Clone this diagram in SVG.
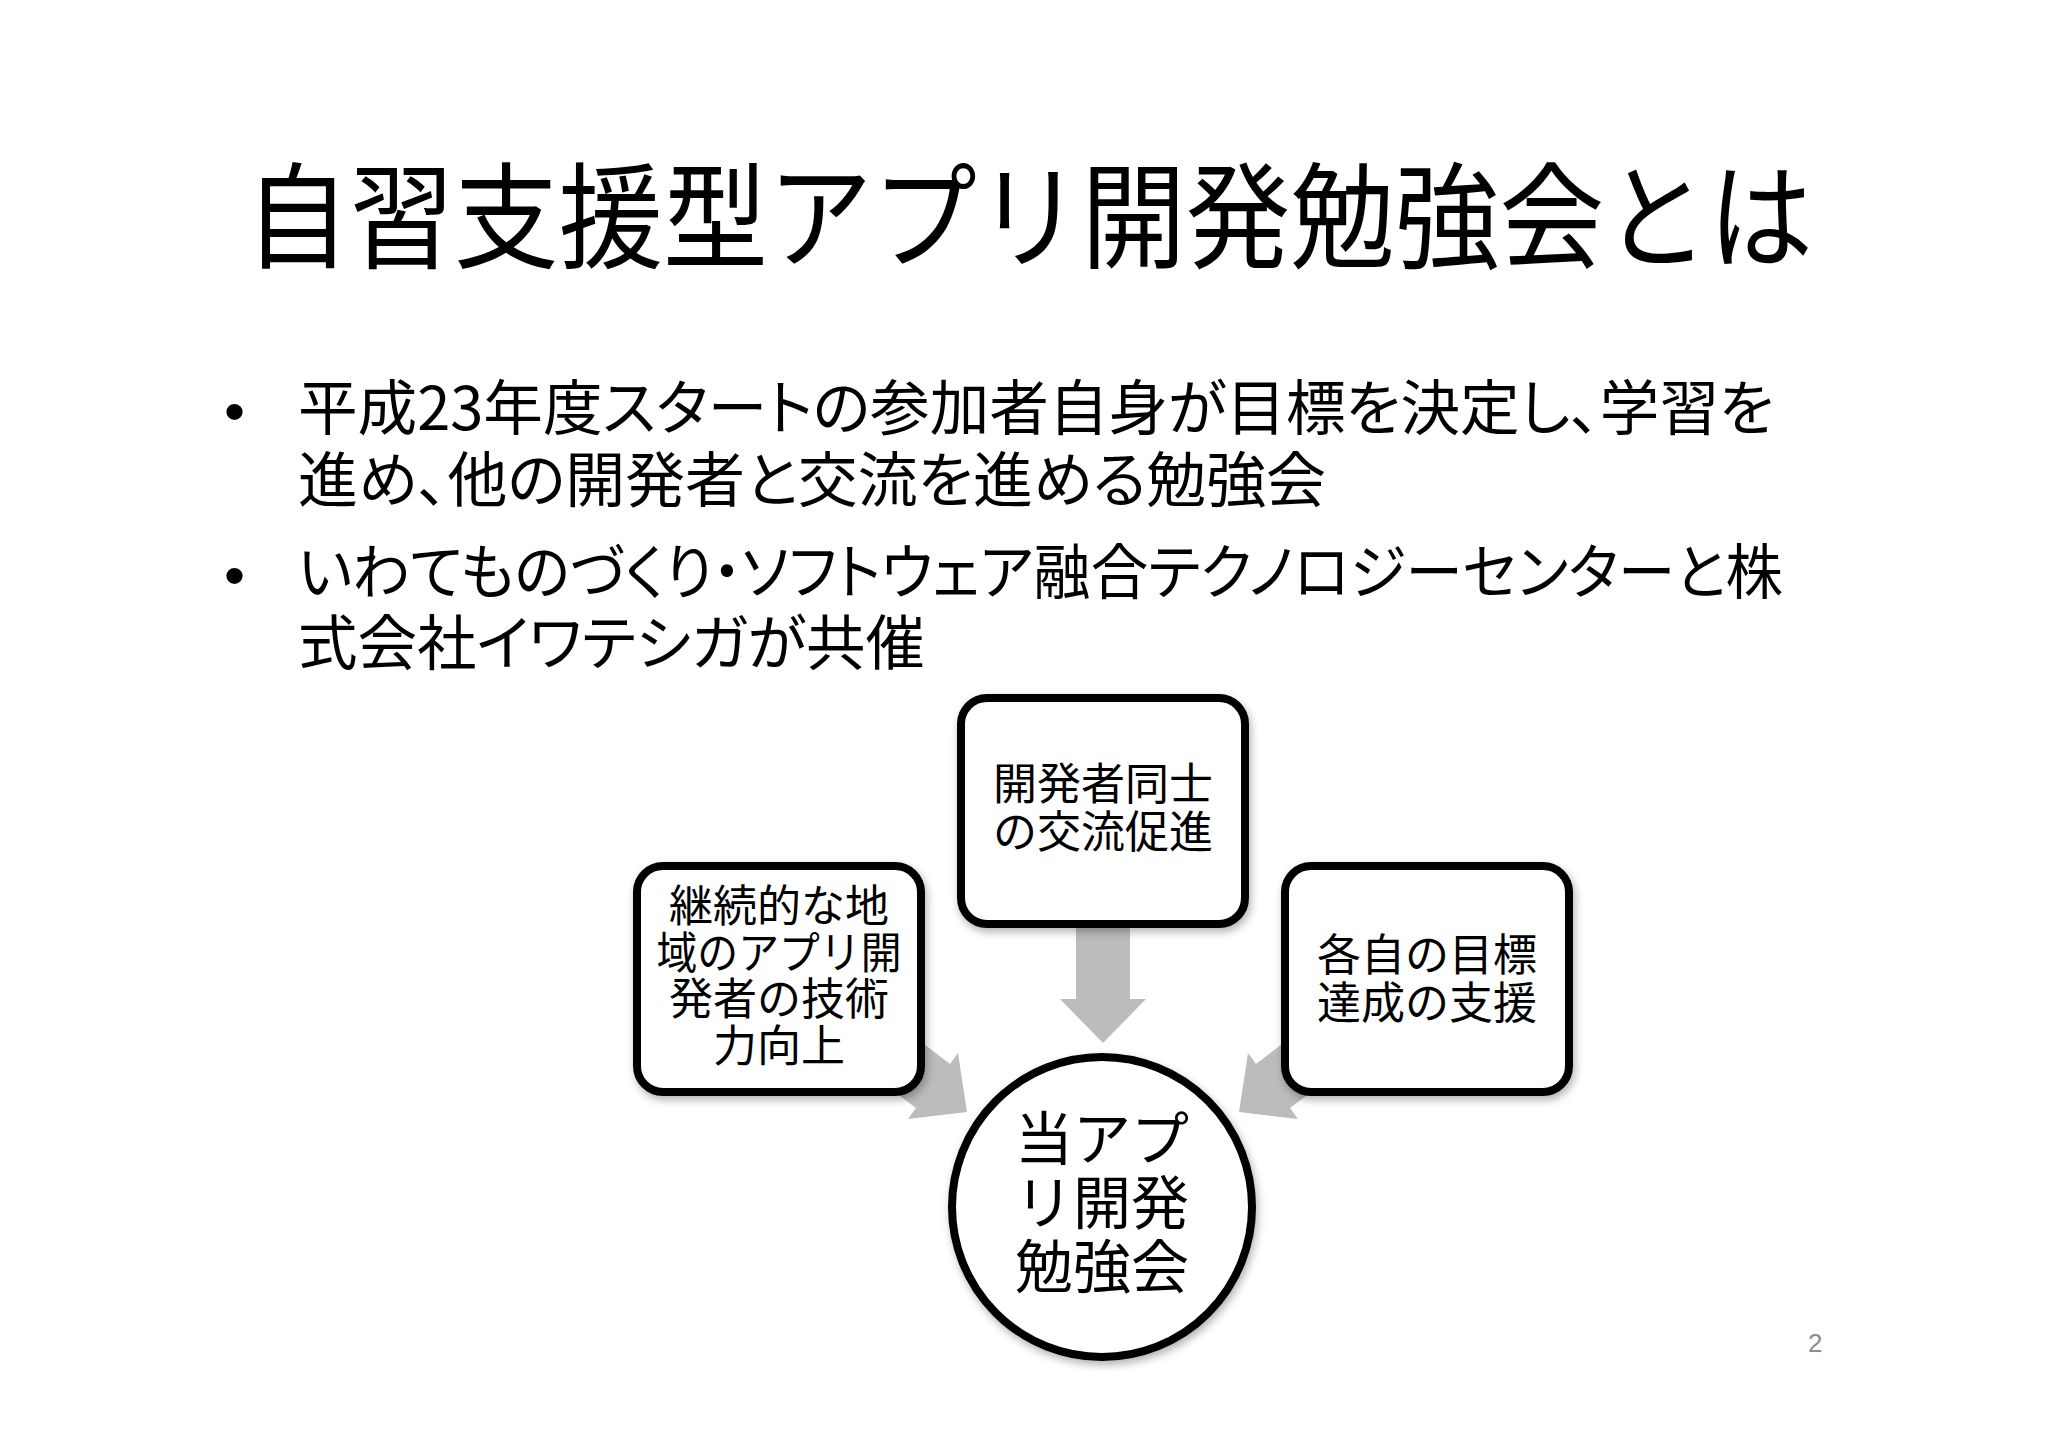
<svg xmlns="http://www.w3.org/2000/svg" width="2048" height="1447" viewBox="0 0 2048 1447">
<defs>
<style>
.jp{font-family:"Noto Sans CJK JP","Noto Sans CJK SC",sans-serif;fill:#000;}
.title{font-size:115px;}
.bul{font-size:60px;font-feature-settings:"palt";}
.dot{font-family:"Liberation Sans",Arial,sans-serif;font-size:60px;fill:#000;}
.box{fill:#fff;stroke:#000;stroke-width:8;}
.btxt{font-size:44px;text-anchor:middle;}
.ctxt{font-size:58px;text-anchor:middle;}
.arr{fill:#bcbcbc;}
.pg{font-family:"Liberation Sans",Arial,sans-serif;font-size:26px;fill:#8c8c8c;}
</style>
<filter id="sh" x="-20%" y="-20%" width="140%" height="140%">
<feDropShadow dx="2" dy="4" stdDeviation="4" flood-color="#000" flood-opacity="0.3"/>
</filter>
</defs>
<rect width="2048" height="1447" fill="#fff"/>

<g id="title">
<text class="jp title" x="245" y="259" textLength="1568" lengthAdjust="spacingAndGlyphs">自習支援型アプリ開発勉強会とは</text>
</g>

<g id="bullets">
<text class="dot" x="224" y="432">•</text>
<text class="jp bul" x="298" y="430" textLength="1476" lengthAdjust="spacingAndGlyphs">平成23年度スタートの参加者自身が目標を決定し、学習を</text>
<text class="jp bul" x="298" y="502" textLength="1028" lengthAdjust="spacingAndGlyphs">進め、他の開発者と交流を進める勉強会</text>
<text class="dot" x="224" y="596">•</text>
<text class="jp bul" x="298" y="594" textLength="1485" lengthAdjust="spacingAndGlyphs">いわてものづくり・ソフトウェア融合テクノロジーセンターと株</text>
<text class="jp bul" x="298" y="665" textLength="627" lengthAdjust="spacingAndGlyphs">式会社イワテシガが共催</text>
</g>

<g id="connectors">
<polygon class="arr" points="1076,920 1130,920 1130,999 1146,999 1103,1043 1060,999 1076,999"/>
<polygon class="arr" points="894,1021 950,1064 958,1053 967,1112 908,1119 916,1108 860,1066"/>
<polygon class="arr" points="1312,1021 1256,1064 1248,1053 1239,1112 1298,1119 1290,1108 1346,1066"/>
</g>

<g id="node-top">
<rect class="box" x="961" y="698" width="284" height="226" rx="26" filter="url(#sh)"/>
<text class="jp btxt" x="1103" y="800">開発者同士</text>
<text class="jp btxt" x="1103" y="848">の交流促進</text>
</g>

<g id="node-left">
<rect class="box" x="637" y="866" width="284" height="226" rx="26" filter="url(#sh)"/>
<text class="jp btxt" x="779" y="922">継続的な地</text>
<text class="jp btxt" x="779" y="969" textLength="245" lengthAdjust="spacingAndGlyphs">域のアプリ開</text>
<text class="jp btxt" x="779" y="1015">発者の技術</text>
<text class="jp btxt" x="779" y="1062">力向上</text>
</g>

<g id="node-right">
<rect class="box" x="1285" y="866" width="284" height="226" rx="26" filter="url(#sh)"/>
<text class="jp btxt" x="1427" y="971">各自の目標</text>
<text class="jp btxt" x="1427" y="1019">達成の支援</text>
</g>

<g id="node-center">
<circle class="box" cx="1102" cy="1207" r="150" filter="url(#sh)"/>
<text class="jp ctxt" x="1102" y="1160">当アプ</text>
<text class="jp ctxt" x="1102" y="1224">リ開発</text>
<text class="jp ctxt" x="1102" y="1288">勉強会</text>
</g>

<g id="page">
<text class="pg" x="1808" y="1352">2</text>
</g>
</svg>
